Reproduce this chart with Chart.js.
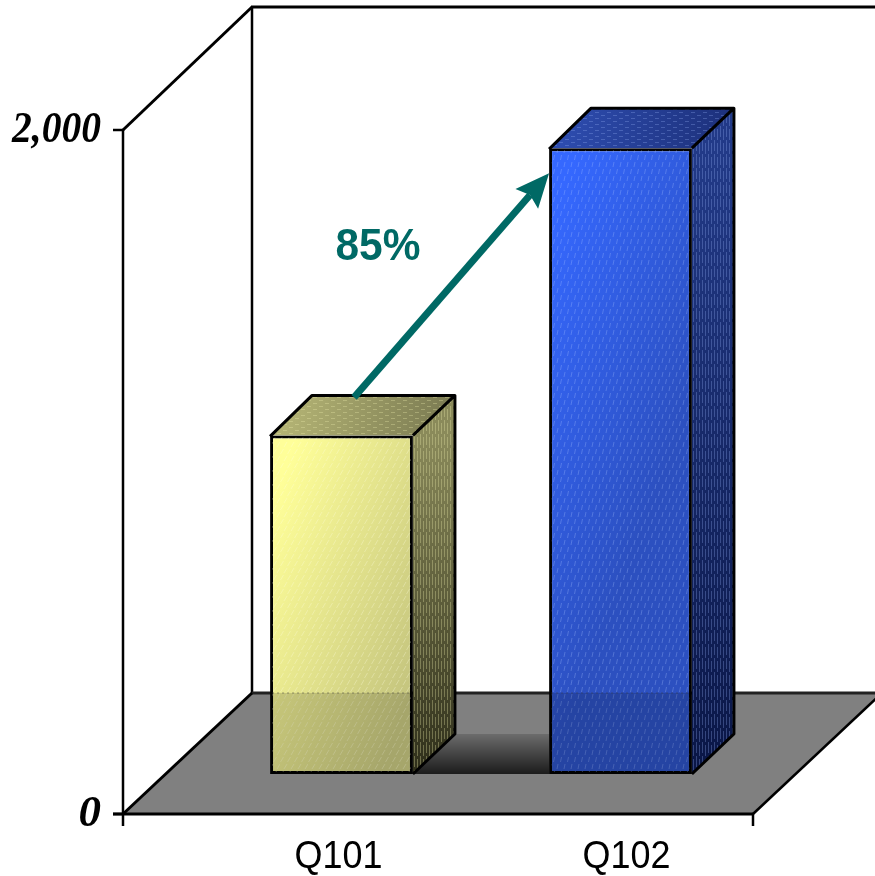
<!DOCTYPE html>
<html>
<head>
<meta charset="utf-8">
<title>Q101 / Q102</title>
<style>
    html, body { margin: 0; padding: 0; background: #fff; }
    canvas { display: block; }
</style>
<script src="https://cdn.jsdelivr.net/npm/chart.js@4"></script>
</head>
<body>
<canvas id="bar-canvas" width="875" height="876"></canvas>
<script>
const categories = ['Q101', 'Q102'];
const seriesValues = [990, 1830];
const yTickValues = [0, 2000];
const yTickLabels = ['0', '2,000'];
const growthLabel = '85%';

const BOX = {
    frontLeft: 123,
    frontRight: 753,
    wallX: 252,
    wallTop: 7,
    floorDx: 129,
    floorDy: 121,
    frontOffset: 40,   // value axis sits this far below the bar plane
    barDx: 42,
    barDy: 40,
    barShare: 0.512,
    labelNudge: [-3, 6],
    labelY: 858
};

const BAR_COLORS = [
    { front: ['#FFFF99', '#C4C47E'], top: ['#BABA78', '#777750'], side: ['#8A8A5A', '#2E2E1A'], dash: 'rgba(255,255,225,0.3)', dot: 'rgba(235,235,170,0.32)' },
    { front: ['#3568FF', '#2C50C0'], top: ['#2F4FB4', '#1C2F78'], side: ['#223A88', '#0A1646'], dash: 'rgba(170,195,255,0.3)', dot: 'rgba(150,175,245,0.3)' }
];

// small tiled textures laid over the faces of the boxes
function makeTile(w, h, paint) {
    const tile = document.createElement('canvas');
    tile.width = w;
    tile.height = h;
    paint(tile.getContext('2d'));
    return tile;
}

function dashTile(color, lean) {
    return makeTile(28, 28, g => {
        g.strokeStyle = color;
        g.lineWidth = 1;
        for (let i = 0; i < 4; i++) {
            for (let j = 0; j < 4; j++) {
                const x = i * 7 + (j % 2) * 3.5 + 0.5;
                const y = j * 7 + 1;
                g.beginPath();
                g.moveTo(x + lean, y);
                g.lineTo(x, y + 5);
                g.stroke();
            }
        }
    });
}

function sideTile(color) {
    return makeTile(6, 14, g => {
        g.fillStyle = color;
        g.fillRect(0, 0, 1, 11);
        g.fillRect(3, 3, 1, 11);
    });
}

function dotTile(color) {
    return makeTile(12, 6, g => {
        g.fillStyle = color;
        g.fillRect(1, 1, 4, 1);
        g.fillRect(7, 4, 4, 1);
    });
}

function fillPoly(ctx, pts, fill) {
    ctx.beginPath();
    pts.forEach((p, i) => i ? ctx.lineTo(p[0], p[1]) : ctx.moveTo(p[0], p[1]));
    ctx.closePath();
    ctx.fillStyle = fill;
    ctx.fill();
}

function strokeLine(ctx, x1, y1, x2, y2, width, color) {
    ctx.beginPath();
    ctx.moveTo(x1, y1);
    ctx.lineTo(x2, y2);
    ctx.lineWidth = width;
    ctx.strokeStyle = color || '#000';
    ctx.stroke();
}

function barRect(bar) {
    const half = bar.width / 2;
    return { left: bar.x - half, right: bar.x + half, top: bar.y, bottom: bar.base };
}

// floor, walls, ticks and the shaded strip between the boxes
function drawRoom(chart) {
    const ctx = chart.ctx;
    const y = chart.scales.y;
    const zeroY = y.getPixelForValue(0) + BOX.frontOffset;
    const maxY = y.getPixelForValue(2000) + BOX.frontOffset;
    const backY = zeroY - BOX.floorDy;
    const bars = chart.getDatasetMeta(0).data.map(barRect);

    fillPoly(ctx, [
        [BOX.frontLeft, zeroY],
        [BOX.frontRight, zeroY],
        [BOX.frontRight + BOX.floorDx, backY],
        [BOX.wallX, backY]
    ], '#808080');

    const shade = ctx.createLinearGradient(0, bars[0].bottom - BOX.barDy, 0, bars[0].bottom);
    shade.addColorStop(0, '#6C6C6C');
    shade.addColorStop(1, '#1C1C1C');
    fillPoly(ctx, [
        [bars[0].right, bars[0].bottom],
        [bars[0].right + BOX.barDx, bars[0].bottom - BOX.barDy],
        [bars[1].left, bars[0].bottom - BOX.barDy],
        [bars[1].left, bars[0].bottom]
    ], shade);

    strokeLine(ctx, BOX.frontLeft, maxY, BOX.frontLeft, zeroY, 2.5);
    strokeLine(ctx, BOX.frontLeft, maxY, BOX.wallX, BOX.wallTop, 3);
    strokeLine(ctx, BOX.wallX, BOX.wallTop, BOX.wallX, backY, 2.5);
    strokeLine(ctx, BOX.wallX - 1, BOX.wallTop, 875, BOX.wallTop, 3);
    strokeLine(ctx, BOX.wallX, backY, 875, backY, 3, '#222');
    strokeLine(ctx, BOX.frontLeft, zeroY, BOX.wallX, backY, 3);
    strokeLine(ctx, BOX.frontRight, zeroY, BOX.frontRight + BOX.floorDx, backY, 2.5);
    strokeLine(ctx, BOX.frontLeft - 10, zeroY, BOX.frontRight, zeroY, 3);
    strokeLine(ctx, BOX.frontLeft, zeroY, BOX.frontLeft, zeroY + 12, 2.5);
    strokeLine(ctx, BOX.frontRight, zeroY, BOX.frontRight, zeroY + 12, 2.5);

    yTickValues.forEach(v => {
        const py = y.getPixelForValue(v) + BOX.frontOffset;
        strokeLine(ctx, BOX.frontLeft - 10, py, BOX.frontLeft, py, 2.5);
    });
}

// side and top of each box, taken from the bar elements
function drawBoxFaces(chart) {
    const ctx = chart.ctx;
    chart.getDatasetMeta(0).data.forEach((bar, i) => {
        const r = barRect(bar);
        const c = BAR_COLORS[i];
        const side = [
            [r.right, r.top],
            [r.right + BOX.barDx, r.top - BOX.barDy],
            [r.right + BOX.barDx, r.bottom - BOX.barDy],
            [r.right, r.bottom]
        ];
        const top = [
            [r.left, r.top],
            [r.left + BOX.barDx, r.top - BOX.barDy],
            [r.right + BOX.barDx, r.top - BOX.barDy],
            [r.right, r.top]
        ];

        const sideFill = ctx.createLinearGradient(0, r.top, 0, r.bottom);
        sideFill.addColorStop(0, c.side[0]);
        sideFill.addColorStop(1, c.side[1]);
        fillPoly(ctx, side, sideFill);
        fillPoly(ctx, side, ctx.createPattern(sideTile(c.dot), 'repeat'));

        const topFill = ctx.createLinearGradient(r.left, r.top - BOX.barDy, r.right + BOX.barDx, r.top);
        topFill.addColorStop(0, c.top[0]);
        topFill.addColorStop(1, c.top[1]);
        fillPoly(ctx, top, topFill);
        fillPoly(ctx, top, ctx.createPattern(dotTile(c.dot), 'repeat'));

        ctx.lineJoin = 'round';
        ctx.lineWidth = 3;
        ctx.strokeStyle = '#000';
        ctx.beginPath();
        ctx.moveTo(r.left, r.top + 1);
        ctx.lineTo(r.left + BOX.barDx, r.top - BOX.barDy);
        ctx.lineTo(r.right + BOX.barDx, r.top - BOX.barDy);
        ctx.lineTo(r.right + BOX.barDx, r.bottom - BOX.barDy);
        ctx.lineTo(r.right, r.bottom);
        ctx.moveTo(r.right, r.top);
        ctx.lineTo(r.right + BOX.barDx, r.top - BOX.barDy);
        ctx.stroke();
    });
}

// dash texture on the front faces, and the part seen through the floor line
function drawFrontDetail(chart) {
    const ctx = chart.ctx;
    const y = chart.scales.y;
    const backY = y.getPixelForValue(0) + BOX.frontOffset - BOX.floorDy;
    chart.getDatasetMeta(0).data.forEach((bar, i) => {
        const r = barRect(bar);
        const c = BAR_COLORS[i];
        const inset = 2;
        ctx.save();
        ctx.beginPath();
        ctx.rect(r.left + inset, r.top + inset, r.right - r.left - inset * 2, r.bottom - r.top - inset * 2);
        ctx.clip();
        ctx.fillStyle = ctx.createPattern(dashTile(c.dash, i === 0 ? 3 : 1), 'repeat');
        ctx.fillRect(r.left, r.top, r.right - r.left, r.bottom - r.top);
        ctx.fillStyle = 'rgba(0,0,0,0.15)';
        ctx.fillRect(r.left, backY, r.right - r.left, r.bottom - backY);
        ctx.restore();

        ctx.save();
        ctx.setLineDash([2, 3]);
        strokeLine(ctx, r.left + inset, backY, r.right - inset, backY, 1, 'rgba(60,60,60,0.5)');
        ctx.restore();
    });
}

function drawArrow(chart) {
    const ctx = chart.ctx;
    const bars = chart.getDatasetMeta(0).data.map(barRect);
    const color = '#006965';
    const tailX = bars[0].left + 84;
    const tailY = bars[0].top - 38;
    const tipX = bars[1].left;
    const tipY = bars[1].top + 25;
    const angle = Math.atan2(tipY - tailY, tipX - tailX);
    const headLen = 34;
    const headHalf = 15;
    const neckX = tipX - Math.cos(angle) * (headLen - 5);
    const neckY = tipY - Math.sin(angle) * (headLen - 5);
    const baseX = tipX - Math.cos(angle) * headLen;
    const baseY = tipY - Math.sin(angle) * headLen;
    const nx = -Math.sin(angle);
    const ny = Math.cos(angle);

    strokeLine(ctx, tailX, tailY, neckX, neckY, 7, color);
    fillPoly(ctx, [
        [tipX, tipY],
        [baseX + nx * headHalf, baseY + ny * headHalf],
        [neckX, neckY],
        [baseX - nx * headHalf, baseY - ny * headHalf]
    ], color);

    ctx.fillStyle = color;
    ctx.font = 'bold 45px "Liberation Sans"';
    ctx.textAlign = 'center';
    ctx.textBaseline = 'middle';
    ctx.fillText(growthLabel, 378, 248, 85);
}

function drawAxisText(chart) {
    const ctx = chart.ctx;
    const y = chart.scales.y;
    const x = chart.scales.x;

    ctx.fillStyle = '#000';
    ctx.font = 'italic bold 45px "Liberation Serif"';
    ctx.textAlign = 'right';
    ctx.textBaseline = 'middle';
    yTickValues.forEach((v, i) => {
        ctx.fillText(yTickLabels[i], 101, y.getPixelForValue(v) + BOX.frontOffset, 89);
    });

    ctx.font = '38px "Liberation Sans"';
    ctx.textAlign = 'center';
    ctx.textBaseline = 'middle';
    categories.forEach((label, i) => {
        ctx.fillText(label, x.getPixelForValue(i) + BOX.labelNudge[i], BOX.labelY, 88);
    });
}

const boxPlugin = {
    id: 'box3d',
    beforeDatasetsDraw(chart) {
        drawRoom(chart);
        drawBoxFaces(chart);
    },
    afterDatasetsDraw(chart) {
        drawFrontDetail(chart);
        drawArrow(chart);
        drawAxisText(chart);
    }
};

// wash across a front face, leaning from top left down to the right
function frontGradient(context) {
    const { chart, dataIndex } = context;
    const colors = BAR_COLORS[dataIndex];
    const { x, y } = chart.scales;
    if (!x || !y || !chart.chartArea) return colors.front[0];
    const half = (x.getPixelForValue(1) - x.getPixelForValue(0)) * BOX.barShare / 2;
    const mid = x.getPixelForValue(dataIndex);
    const top = y.getPixelForValue(seriesValues[dataIndex]);
    const fill = chart.ctx.createLinearGradient(mid - half, top + half, mid + half * 1.6, top + half * 2);
    fill.addColorStop(0, colors.front[0]);
    fill.addColorStop(1, colors.front[1]);
    return fill;
}

new Chart(document.querySelector('#bar-canvas'), {
    type: 'bar',
    data: {
        labels: categories,
        datasets: [{
            data: seriesValues,
            backgroundColor: frontGradient,
            borderColor: '#000',
            borderWidth: 3,
            borderSkipped: false,
            barPercentage: BOX.barShare,
            categoryPercentage: 1
        }]
    },
    options: {
        responsive: false,
        animation: false,
        layout: {
            padding: { left: 202, right: 115, top: 90, bottom: 102 }
        },
        plugins: {
            legend: { display: false },
            tooltip: { enabled: false }
        },
        scales: {
            x: { display: false },
            y: { display: false, min: 0, max: 2000 }
        }
    },
    plugins: [boxPlugin]
});
</script>
</body>
</html>
